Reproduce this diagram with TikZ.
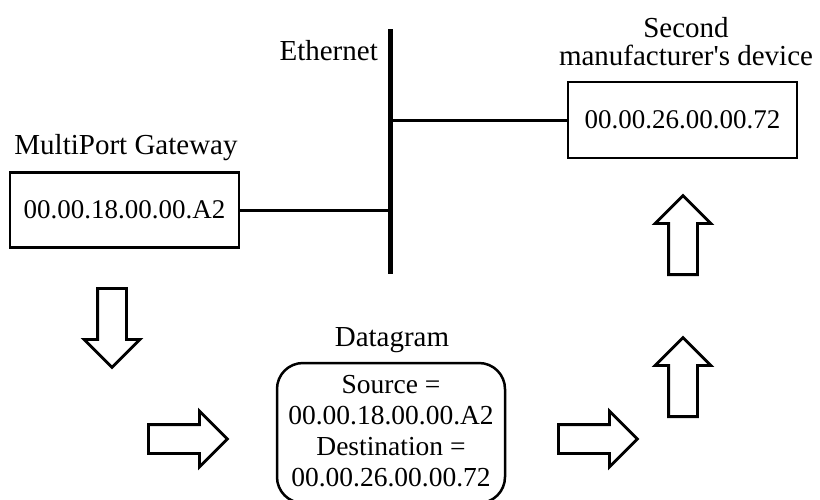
\documentclass[tikz,border=0pt]{standalone}
\usepackage{fontspec}
\setmainfont{Liberation Serif}
\usetikzlibrary{shapes.arrows}
\tikzset{
  lbl/.style={font=\fontsize{29}{28}\selectfont, inner sep=0pt},
  addrbox/.style={draw, line width=2.5pt, font=\fontsize{27}{30}\selectfont, inner sep=0pt, minimum width=229pt},
  dgbox/.style={draw, line width=2.5pt, rounded corners=26pt, inner sep=0pt},
  dgtext/.style={font=\fontsize{27.5}{31}\selectfont, align=center, inner sep=0pt},
  link/.style={line width=3pt},
  bigarrow/.style={single arrow, draw, line width=2.8pt, inner xsep=0pt, inner ysep=13pt, minimum height=79pt, single arrow head extend=13.5pt, single arrow tip angle=90}
}
\begin{document}
\begin{tikzpicture}[x=1pt,y=-1pt]
\useasboundingbox (0,0) rectangle (820,499);
\clip (0,0) rectangle (820,499);
% Ethernet bus
\coordinate (busTop) at (390,29);
\coordinate (busBot) at (390,274);
\draw[line width=5pt] (busTop) -- (busBot);
\node[lbl, anchor=east] (eth) at (378,51) {Ethernet};
% Gateway
\node[lbl] (gwlbl) at (126,148) {MultiPort Gateway};
\node[addrbox, minimum height=75pt] (gw) at (124.5,210) {00.00.18.00.00.A2};
\draw[link] (gw.east) -- (gw.east -| busTop);
% Second device
\node[lbl, align=center] (devlbl) at (686,42) {Second\\manufacturer\textquotesingle s device};
\node[addrbox, minimum height=76pt] (dev) at (682.5,120) {00.00.26.00.00.72};
\draw[link] (dev.west) -- (dev.west -| busTop);
% Datagram
\node[lbl] (dglbl) at (392,340) {Datagram};
\node[dgbox, minimum width=228pt, minimum height=140pt] (dg) at (391,433) {};
\node[dgtext] (dgt) at (391,431) {Source =\\00.00.18.00.00.A2\\Destination =\\00.00.26.00.00.72};
% Block arrows
\node[bigarrow, rotate=-90, anchor=tail] (adown) at (112,287) {};
\node[bigarrow, anchor=tail] (ar1) at (147,439) {};
\node[bigarrow, anchor=tail] (ar2) at (557,439) {};
\node[bigarrow, rotate=90, anchor=tail] (aup1) at (683,418) {};
\node[bigarrow, rotate=90, anchor=tail] (aup2) at (683,276) {};
\end{tikzpicture}
\end{document}
